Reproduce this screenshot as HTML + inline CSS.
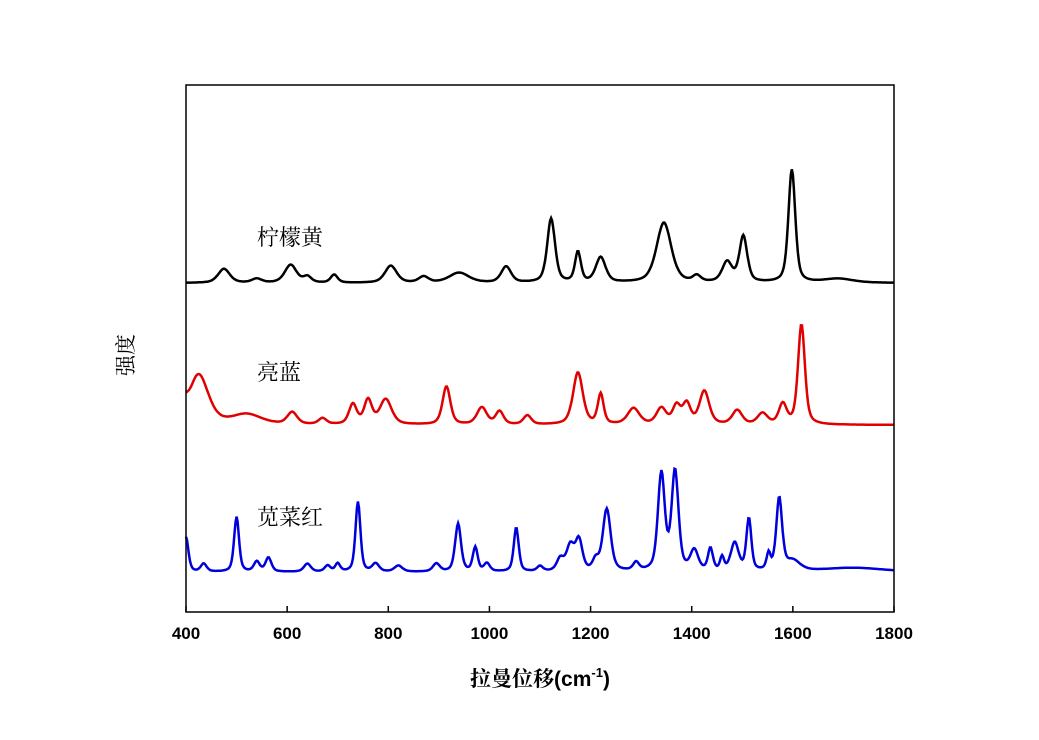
<!DOCTYPE html>
<html><head><meta charset="utf-8"><style>body{margin:0;background:#fff}</style></head><body>
<svg id="chart" width="1039" height="735" xmlns="http://www.w3.org/2000/svg">
<rect width="1039" height="735" fill="#fff"/>
<g id="plot"></g>
<rect x="186" y="85" width="708" height="527" fill="none" stroke="#000" stroke-width="1.5"/>
<g id="axis"></g>
<text x="257" y="245" font-family="'Liberation Serif','Noto Serif CJK SC',serif" font-size="22">柠檬黄</text>
<text x="257" y="380" font-family="'Liberation Serif','Noto Serif CJK SC',serif" font-size="22">亮蓝</text>
<text x="257" y="525" font-family="'Liberation Serif','Noto Serif CJK SC',serif" font-size="22">苋菜红</text>
<text transform="translate(133,355) rotate(-90)" text-anchor="middle" font-family="'Liberation Serif','Noto Serif CJK SC',serif" font-size="21">强度</text>
<text x="540" y="686" text-anchor="middle" font-family="'Liberation Serif','Noto Serif CJK SC',serif" font-size="21" font-weight="bold">拉曼位移<tspan font-family="'Liberation Sans',sans-serif" font-weight="bold">(cm</tspan><tspan font-family="'Liberation Sans',sans-serif" font-weight="bold" font-size="13" dy="-9">-1</tspan><tspan font-family="'Liberation Sans',sans-serif" font-weight="bold" dy="9">)</tspan></text>
</svg>
<script>
const xTicks=[400,600,800,1000,1200,1400,1600,1800];
const blackBase=329;
const blackPos=[475,540,607,640,693,805,870,940,1033,1122,1175,1220,1345,1410,1470,1502,1598,1690];
const blackHt=[14,4,18,6,8,17,6,10,16,64,30,25,60,6,20,46,113,4];
const blackWd=[12,10,12,8,7,12,10,20,10,8,6,10,15,8,10,8,7,30];
const redBase=187;
const redPos=[398,425,520,610,670,730,760,795,915,985,1020,1075,1175,1220,1285,1340,1370,1390,1425,1490,1540,1580,1617];
const redHt=[10,50,10,12,6,20,24,25,38,17,13,9,52,30,16,16,18,20,33,14,11,20,100];
const redWd=[6,20,30,10,8,8,8,12,8,10,8,8,10,6,12,10,8,8,10,10,10,8,7];
const bluePos=[400,435,500,540,563,640,680,700,740,775,820,895,938,972,995,1053,1100,1140,1160,1177,1210,1232,1290,1340,1367,1405,1437,1460,1485,1513,1552,1573,1600,1720];
const blueHt=[35,8,55,10,14,8,6,8,70,8,6,8,48,24,8,44,5,12,25,30,10,62,8,97,99,20,22,13,28,52,16,72,10,4];
const blueWd=[5,6,5,6,6,7,6,5,5,7,8,7,6,5,6,5,6,7,8,7,6,8,6,7,7,8,5,4,8,5,4,6,15,60];
const blueBase=40;
const WF=1.15;
const X=v=>186+(v-400)*708/1400;
const Y=v=>612-v*527/527;
const NS='http://www.w3.org/2000/svg';
function spec(w,pos,ht,wd,base){let s=base;for(let i=0;i<pos.length;i++){const d=(w-pos[i])/(wd[i]*WF);s+=ht[i]*(0.5/(1+d*d)+0.5*Math.exp(-0.693*d*d));}return s;}
function draw(pos,ht,wd,base,color,name){let d='';for(let w=400;w<=1800;w+=2){const v=spec(w,pos,ht,wd,base);d+=(w===400?'M':'L')+X(w).toFixed(1)+','+Y(v).toFixed(1);}
const p=document.createElementNS(NS,'path');p.setAttribute('d',d);p.setAttribute('fill','none');p.setAttribute('stroke',color);p.setAttribute('stroke-width','2.5');


document.getElementById('plot').appendChild(p);}
draw(blackPos,blackHt,blackWd,blackBase,'#000','tartrazine-spectrum');
draw(redPos,redHt,redWd,redBase,'#e00000','brilliant-blue-spectrum');
draw(bluePos,blueHt,blueWd,blueBase,'#0000dd','amaranth-spectrum');
const ax=document.getElementById('axis');
xTicks.forEach(t=>{const l=document.createElementNS(NS,'line');l.setAttribute('x1',X(t));l.setAttribute('x2',X(t));l.setAttribute('y1',612);l.setAttribute('y2',606);l.setAttribute('stroke','#000');l.setAttribute('stroke-width','1.5');


ax.appendChild(l);
const tx=document.createElementNS(NS,'text');tx.setAttribute('x',X(t));tx.setAttribute('y',639);tx.setAttribute('text-anchor','middle');tx.setAttribute('font-family','Liberation Sans, sans-serif');tx.setAttribute('font-weight','bold');tx.setAttribute('font-size','17');tx.textContent=t;


ax.appendChild(tx);});
</script>
</body></html>
